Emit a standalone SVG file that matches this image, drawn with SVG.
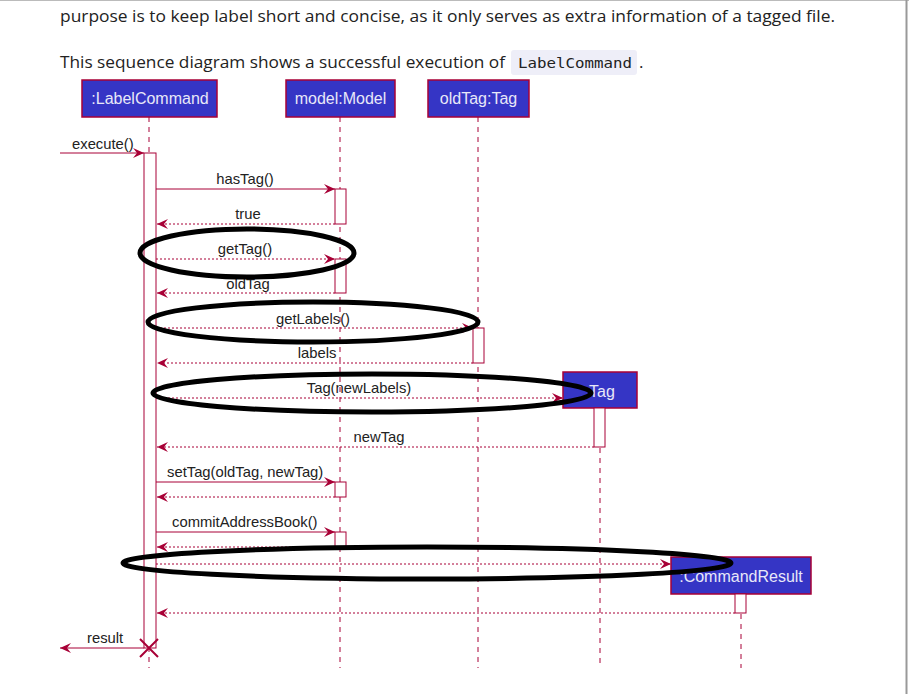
<svg xmlns="http://www.w3.org/2000/svg" width="909" height="694" viewBox="0 0 909 694">
<defs>
<marker id="ah" viewBox="0 0 12 10" refX="11" refY="5" markerWidth="12" markerHeight="10" markerUnits="userSpaceOnUse" orient="auto">
<path d="M0,0 L11,5 L0,10 L4,5 Z" fill="#A80036"/>
</marker>
<style>
.page{font-family:"Open Sans","Liberation Sans",sans-serif;font-size:17px;fill:#222}
.code{font-family:"DejaVu Sans Mono","Liberation Mono",monospace;font-size:14px;fill:#222}
.box{fill:#3535C5;stroke:#A80036;stroke-width:1.5}
.bt{font-family:"Liberation Sans",Arial,sans-serif;font-size:16px;fill:#E8E8F8;text-anchor:middle}
.life{stroke:#A80036;stroke-width:1;stroke-dasharray:5,5;fill:none}
.act{fill:#fff;stroke:#A80036;stroke-width:1}
.msg{stroke:#A80036;stroke-width:1;fill:none;marker-end:url(#ah)}
.ret{stroke:#A80036;stroke-width:1;stroke-dasharray:2,2;fill:none;marker-end:url(#ah)}
.ml{font-family:"Liberation Sans",Arial,sans-serif;font-size:14.8px;fill:#222}
.mid{text-anchor:middle}
.ell{fill:none;stroke:#000;stroke-width:5}
</style>
</defs>
<rect width="909" height="694" fill="#fff"/>
<line x1="0" y1="0.5" x2="909" y2="0.5" stroke="#bbb" stroke-width="1"/>
<line x1="906.5" y1="0" x2="906.5" y2="694" stroke="#999" stroke-width="2"/>

<g id="prose">
<text class="page" x="60" y="22" textLength="775" lengthAdjust="spacingAndGlyphs">purpose is to keep label short and concise, as it only serves as extra information of a tagged file.</text>
<text class="page" x="60" y="68" textLength="445" lengthAdjust="spacingAndGlyphs">This sequence diagram shows a successful execution of</text>
<rect x="511" y="50" width="126" height="25" rx="3" fill="#EEEEF8"/>
<text class="code" x="518" y="68" textLength="114" lengthAdjust="spacingAndGlyphs">LabelCommand</text>
<text class="page" x="639" y="68">.</text>
</g>

<g id="lifelines">
<line class="life" x1="149" y1="117" x2="149" y2="668"/>
<line class="life" x1="340" y1="117" x2="340" y2="668"/>
<line class="life" x1="478" y1="117" x2="478" y2="668"/>
<line class="life" x1="600" y1="408" x2="600" y2="668"/>
<line class="life" x1="741" y1="594" x2="741" y2="668"/>
</g>

<g id="labelCommand">
<rect class="box" x="82" y="80" width="135" height="37"/>
<text class="bt" x="150" y="104">:LabelCommand</text>
</g>
<g id="model">
<rect class="box" x="286" y="80" width="109" height="37"/>
<text class="bt" x="340.5" y="104">model:Model</text>
</g>
<g id="oldTag">
<rect class="box" x="428" y="80" width="101" height="37"/>
<text class="bt" x="478.5" y="104">oldTag:Tag</text>
</g>
<g id="tag">
<rect class="box" x="563" y="372" width="74" height="36"/>
<text class="bt" x="602" y="397">Tag</text>
</g>
<g id="commandResult">
<rect class="box" x="671" y="557" width="140" height="37"/>
<text class="bt" x="741" y="582">:CommandResult</text>
</g>

<g id="activations">
<rect class="act" x="144" y="153" width="12" height="495"/>
<rect class="act" x="335" y="189" width="11" height="35"/>
<rect class="act" x="335" y="259" width="11" height="34"/>
<rect class="act" x="473" y="328" width="11" height="35"/>
<rect class="act" x="594" y="408" width="11" height="39"/>
<rect class="act" x="335" y="482" width="11" height="15"/>
<rect class="act" x="335" y="532" width="11" height="15"/>
<rect class="act" x="735" y="594" width="11" height="19"/>
</g>

<g id="connectors">
<line class="msg" x1="60" y1="153" x2="144" y2="153"/>
<text class="ml" x="72" y="149">execute()</text>
<line class="msg" x1="156" y1="189" x2="335" y2="189"/>
<text class="ml mid" x="245" y="184">hasTag()</text>
<line class="ret" x1="335" y1="224" x2="157" y2="224"/>
<text class="ml mid" x="248" y="219">true</text>
<line class="ret" x1="156" y1="259" x2="335" y2="259"/>
<text class="ml mid" x="245" y="254">getTag()</text>
<line class="ret" x1="335" y1="293" x2="157" y2="293"/>
<text class="ml mid" x="248" y="289">oldTag</text>
<line class="ret" x1="156" y1="328" x2="473" y2="328"/>
<text class="ml mid" x="313" y="324">getLabels()</text>
<line class="ret" x1="473" y1="363" x2="157" y2="363"/>
<text class="ml mid" x="317" y="358">labels</text>
<line class="ret" x1="156" y1="398" x2="563" y2="398"/>
<text class="ml mid" x="359" y="393">Tag(newLabels)</text>
<line class="ret" x1="594" y1="447" x2="157" y2="447"/>
<text class="ml mid" x="379" y="442">newTag</text>
<line class="msg" x1="156" y1="482" x2="335" y2="482"/>
<text class="ml" x="167" y="477">setTag(oldTag, newTag)</text>
<line class="ret" x1="335" y1="497" x2="157" y2="497"/>
<line class="msg" x1="156" y1="532" x2="335" y2="532"/>
<text class="ml" x="172" y="527">commitAddressBook()</text>
<line class="ret" x1="335" y1="547" x2="157" y2="547"/>
<line class="ret" x1="156" y1="564" x2="671" y2="564"/>
<line class="ret" x1="735" y1="613" x2="157" y2="613"/>
<line class="msg" x1="144" y1="648" x2="60" y2="648"/>
<text class="ml" x="87" y="643">result</text>
<path d="M140,639 L158,657 M158,639 L140,657" stroke="#A80036" stroke-width="2" fill="none"/>
</g>

<g id="annotations">
<ellipse class="ell" cx="247" cy="253" rx="107" ry="24"/>
<ellipse class="ell" cx="313" cy="322" rx="165" ry="20"/>
<ellipse class="ell" cx="372" cy="393" rx="219" ry="19"/>
<ellipse class="ell" cx="427" cy="563" rx="304" ry="16"/>
</g>
</svg>
